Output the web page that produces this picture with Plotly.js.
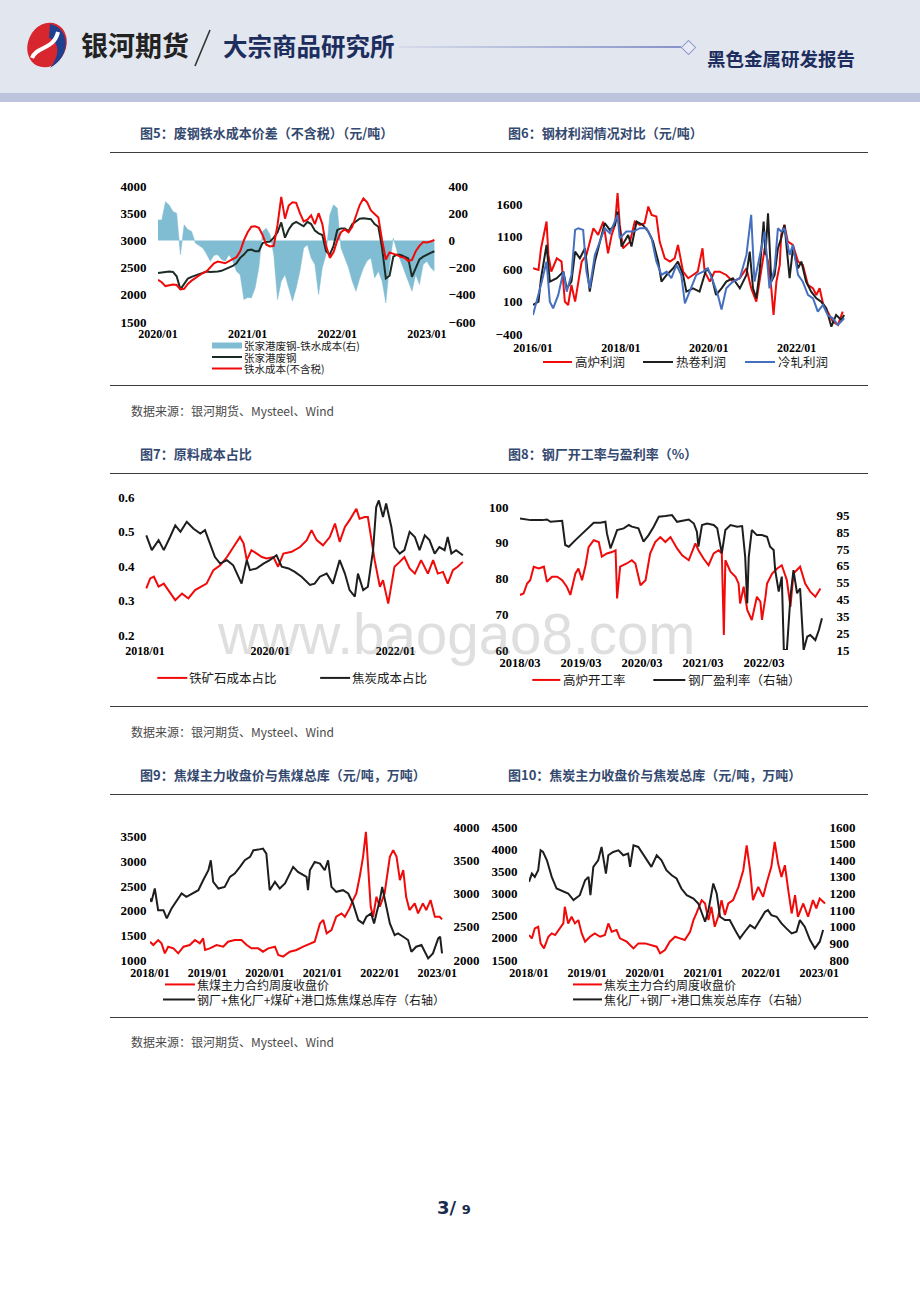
<!DOCTYPE html>
<html><head><meta charset="utf-8">
<script src="https://cdn.plot.ly/plotly-3.0.1.min.js"></script>
<style>
body{margin:0;width:920px;height:1302px;position:relative;background:#fff;overflow:hidden;font-family:"Noto Sans CJK SC",sans-serif;}
.abs{position:absolute;white-space:nowrap;}
.title{position:absolute;font-size:13px;color:#34496f;white-space:nowrap;line-height:16px;font-weight:700;}
.rule{position:absolute;left:110px;width:758px;height:0;border-top:1.5px solid #3c3c3c;}
.src{position:absolute;left:131px;font-size:12px;color:#4a4a4a;white-space:nowrap;line-height:14px;}
.chart{position:absolute;}
</style></head><body>

<!-- header -->
<div class="abs" style="left:0;top:0;width:920px;height:93px;background:#e2e6ef;"></div>
<div class="abs" style="left:0;top:93px;width:920px;height:9px;background:#bcc3dd;"></div>
<svg class="abs" style="left:20px;top:18px" width="56" height="54">
  <ellipse cx="27" cy="27" rx="19" ry="23" fill="#d8262e" transform="rotate(25 27 27)"/>
  <path d="M30 6 C50 10 52 38 30 50 C40 38 40 24 29 20 Z" fill="#1f3f8f"/>
  <path d="M12 40 C16 28 34 32 38 14" stroke="#ffffff" stroke-width="4" fill="none"/>
</svg>
<div class="abs" style="left:81px;top:29px;font-size:27px;line-height:32px;font-weight:700;color:#222;">银河期货</div>
<svg class="abs" style="left:190px;top:28px" width="24" height="40"><line x1="20" y1="2" x2="5" y2="38" stroke="#333" stroke-width="1.6"/></svg>
<div class="abs" style="left:223px;top:32px;font-size:24.5px;line-height:28px;font-weight:700;color:#1c2d5e;">大宗商品研究所</div>
<div class="abs" style="left:399px;top:46px;width:282px;height:1.5px;background:linear-gradient(to right,rgba(190,198,225,0.3),#8793c8);"></div>
<div class="abs" style="left:683px;top:42px;width:9px;height:9px;border:1px solid #8d9ace;background:#e8ebf4;transform:rotate(45deg);"></div>
<div class="abs" style="left:707px;top:46px;font-size:18.5px;line-height:24px;font-weight:700;color:#1c2d5e;">黑色金属研发报告</div>

<!-- section titles and rules -->
<div class="title" style="left:140px;top:125px;">图5：废钢铁水成本价差（不含税）（元/吨）</div>
<div class="title" style="left:508px;top:125px;">图6：钢材利润情况对比（元/吨）</div>
<div class="rule" style="top:152px;"></div>
<div class="rule" style="top:385px;"></div>
<div class="src" style="top:404px;">数据来源：银河期货、Mysteel、Wind</div>

<div class="title" style="left:140px;top:446px;">图7：原料成本占比</div>
<div class="title" style="left:508px;top:446px;">图8：钢厂开工率与盈利率（%）</div>
<div class="rule" style="top:473px;"></div>
<div class="rule" style="top:706px;"></div>
<div class="src" style="top:725px;">数据来源：银河期货、Mysteel、Wind</div>

<div class="title" style="left:140px;top:767px;">图9：焦煤主力收盘价与焦煤总库（元/吨，万吨）</div>
<div class="title" style="left:508px;top:767px;">图10：焦炭主力收盘价与焦炭总库（元/吨，万吨）</div>
<div class="rule" style="top:794px;"></div>
<div class="rule" style="top:1017px;"></div>
<div class="src" style="top:1035px;">数据来源：银河期货、Mysteel、Wind</div>

<div class="chart" id="c5"></div>
<div class="chart" id="c6"></div>
<div class="chart" id="c7"></div>
<div class="chart" id="c8"></div>
<div class="chart" id="c9"></div>
<div class="chart" id="c10"></div>

<div class="abs" style="left:218px;top:607px;font-family:'Liberation Sans',Arial,sans-serif;font-size:56.5px;line-height:56.5px;color:rgba(120,120,120,0.24);pointer-events:none;">www.baogao8.com</div>

<div class="abs" style="left:437px;top:1197px;font-family:'DejaVu Sans',sans-serif;font-weight:700;color:#1a2b4c;"><span style="font-size:18px;">3/</span> <span style="font-size:13px;">9</span></div>

<script>
// ---------------- DATA ----------------
// Chart 5: 2020/01 onward, half-month steps (x = months since 2020/01)
const c5XTicks = [0, 12, 24, 36];
const c5XText = ['2020/01', '2021/01', '2022/01', '2023/01'];
const c5LeftTicks = [1500, 2000, 2500, 3000, 3500, 4000];
const c5RightTicks = [-600, -400, -200, 0, 200, 400];
const c5Names = ['张家港废钢-铁水成本(右)', '张家港废钢', '铁水成本(不含税)'];
const c5Spread = [150,150,285,260,212,200,-105,115,80,66,
  -20,-40,-56,-100,-154,-110,-105,-140,-154,-105,
  -150,-227,-252,-435,-420,-423,-350,-200,66,90,
  42,-105,-435,-300,-252,-350,-447,-350,-227,-56,
  -32,-130,-178,-398,-200,-105,188,262,237,-56,
  -130,-200,-300,-374,-280,-203,-150,-130,-276,-227,
  -300,-460,-178,17,-81,-150,-227,-300,-374,-252,
  -325,-178,-154,-200,-227];
const c5Scrap = [2399,2410,2420,2430,2420,2340,2100,2200,2300,2330,
  2360,2380,2400,2430,2420,2420,2430,2440,2470,2490,
  2530,2580,2680,2740,2820,2830,2800,2800,2950,2970,
  2980,3050,3150,3330,3050,3200,3300,3340,3300,3260,
  3340,3300,3180,3130,3100,2800,2740,2900,3190,3220,
  3220,3170,3300,3350,3400,3405,3400,3390,3300,3250,
  2860,2300,2350,2700,2740,2730,2700,2670,2330,2480,
  2650,2700,2740,2770,2800];
const c5HotMetal = [2276,2230,2160,2170,2190,2180,2100,2110,2200,2260,
  2310,2350,2400,2430,2500,2580,2610,2600,2580,2620,
  2660,2690,2800,3000,3150,3250,3260,3230,3100,2920,
  2890,2900,3285,3800,3400,3640,3700,3690,3500,3350,
  3380,3460,3300,3500,3300,2900,2680,2780,3000,3150,
  3200,3150,3250,3450,3650,3770,3700,3550,3480,3420,
  3000,2650,2780,2760,2730,2700,2680,2620,2640,2800,
  2900,2970,2960,2980,3010];

// Chart 6: months since 2016/01
const c6XTicks = [0, 24, 48, 72];
const c6XText = ['2016/01', '2018/01', '2020/01', '2022/01'];
const c6YTicks = [-400, 100, 600, 1100, 1600];
const c6Names = ['高炉利润', '热卷利润', '冷轧利润'];
const c6BfX = [0,1.5,2.2,2.8,3.7,4.2,5,6.5,7.8,8.7,9.6,10.5,11.5,12.4,13.3,14.6,16.5,17.8,19.2,20.5,21.5,22.4,23.1,23.7,24.6,26.5,27.8,29.2,30.5,31.5,32.4,33.7,34.6,36,37.4,38.7,39.6,41,42.4,43.7,45,46.3,46.9,48.3,49.6,51,52.8,54.6,56.5,58.3,59.6,61,62.4,63.3,64.2,65.1,65.7,66.5,67.4,67.8,68.7,69.6,71,72.4,73.7,75.1,76.5,77.4,78.3,79.2,80.5,81.9,83.3,84.6];
const c6BfY = [613,587,921,1076,1333,819,561,767,716,99,47,356,99,407,716,819,1230,1127,1333,844,1127,1281,1770,1281,921,1024,1333,1281,1307,1564,1436,1410,1024,767,716,767,973,561,459,510,561,921,561,407,561,561,510,407,459,613,304,99,561,921,716,304,-107,407,664,1127,1281,1024,973,716,664,356,304,202,304,73,-55,-210,-261,-55];
const c6HrX = [0,1.5,2.2,3.7,4.6,6.5,8.3,9.2,10.5,11.5,12.8,14.2,15.5,16.9,18.3,19.6,21,22.4,23.1,24.2,26,26.9,28.3,30,31.5,32.8,34.2,35.1,36.5,38.3,39.6,41,41.9,43.7,45.5,47.4,48.7,50,51.5,52.8,54.6,56.5,58.3,59.2,60.1,61,61.9,63,63.5,64.2,65.1,66,66.9,67.8,68.7,70.1,71,72.4,73.3,74.6,76,77.4,78.7,80.1,81.5,82.8,84.2,85];
const c6HrY = [47,99,459,973,407,459,561,304,407,870,767,921,253,716,1024,1307,1204,1281,1487,947,1127,947,1333,1281,1179,1024,716,407,510,613,716,510,253,304,253,613,510,202,304,407,459,304,510,870,304,150,561,1333,819,1461,407,510,921,1076,1281,459,921,613,716,407,253,150,99,-4,-287,-107,-184,-107];
const c6CrX = [0,1,2.4,3.7,4.6,5.5,6.9,8.3,9.2,10.5,11.5,12.4,13.7,14.6,15.5,16.9,18.3,19.6,21,22.4,23.1,23.7,25.5,27.4,29.2,31,32.4,33.7,35.1,36.5,37.8,39.2,40.5,41.5,42.8,44.6,46.5,47.8,49.2,50.5,51.5,52.8,54.6,56.5,58.3,59.6,60.5,61.9,63.3,64.6,66,66.9,67.8,68.7,70.1,71,72.4,73.7,75.1,76.5,77.8,79.2,80.5,81.9,83.3,85];
const c6CrY = [-107,99,407,716,99,-4,202,561,253,510,1204,1230,1204,561,304,819,1024,1230,1153,1333,1436,1076,1179,1179,1230,1230,1076,716,510,561,459,664,510,73,253,510,561,613,407,202,-22,304,407,459,819,1436,407,819,1179,304,613,1230,1179,1230,819,973,510,407,202,150,-55,47,-107,-158,-261,-158];

// Chart 7: months since 2018/01
const c7XTicks = [0, 24, 48];
const c7XText = ['2018/01', '2020/01', '2022/01'];
const c7YTicks = [0.2, 0.3, 0.4, 0.5, 0.6];
const c7Names = ['铁矿石成本占比', '焦炭成本占比'];
const c7OreX = [0.25,1,1.7,2.6,3.6,4.5,5.8,7.1,8.3,9.6,10.9,11.8,13.1,14.4,15.7,16.9,18.2,18.9,19.5,20.4,21.4,22.4,23.3,24.6,25.5,26.5,28.1,29.7,31,31.9,32.9,34.1,35.4,36.4,37.3,38.3,39.2,40.5,41.1,42.1,42.7,43.4,44,45,45.6,46.6,47.2,47.8,48.8,49.7,50.7,51.7,52.9,54.2,55.2,56.1,57.1,58,59,59.9,60.9];
const c7OreY = [0.335,0.364,0.369,0.340,0.349,0.330,0.301,0.320,0.306,0.330,0.340,0.349,0.388,0.402,0.426,0.455,0.484,0.465,0.417,0.446,0.436,0.426,0.422,0.426,0.398,0.436,0.441,0.455,0.475,0.504,0.475,0.460,0.484,0.523,0.470,0.513,0.533,0.566,0.537,0.542,0.542,0.475,0.417,0.340,0.359,0.291,0.349,0.398,0.412,0.426,0.393,0.378,0.417,0.378,0.417,0.378,0.383,0.349,0.388,0.398,0.412];
const c7CokeX = [0.25,1.3,2.6,3.6,4.8,5.8,6.8,8,9.3,10.6,11.5,12.5,13.4,14.4,15.7,16.9,17.9,18.5,19.5,20.1,21.4,22.7,23.9,25.2,26.2,27.5,28.7,30,31.6,32.5,33.5,34.8,36,37.3,38.3,39.2,40.2,40.8,41.8,42.7,43.7,44.3,44.8,45.6,46.2,47.2,47.8,48.8,49.7,50.7,51.7,52.6,53.6,54.5,55.5,56.4,57.4,58,58.7,59.6,60.9];
const c7CokeY = [0.489,0.446,0.475,0.446,0.484,0.518,0.499,0.528,0.508,0.494,0.504,0.465,0.426,0.407,0.417,0.402,0.369,0.349,0.417,0.388,0.393,0.407,0.417,0.431,0.398,0.393,0.383,0.369,0.345,0.349,0.369,0.378,0.349,0.417,0.378,0.330,0.311,0.378,0.330,0.340,0.446,0.571,0.590,0.542,0.581,0.513,0.455,0.436,0.446,0.499,0.484,0.446,0.489,0.475,0.436,0.455,0.446,0.484,0.436,0.446,0.431];

// Chart 8: months since 2018/03
const c8XTicks = [0, 12, 24, 36, 48];
const c8XText = ['2018/03', '2019/03', '2020/03', '2021/03', '2022/03'];
const c8LeftTicks = [60, 70, 80, 90, 100];
const c8RightTicks = [15, 25, 35, 45, 55, 65, 75, 85, 95];
const c8Names = ['高炉开工率', '钢厂盈利率（右轴）'];
const c8RateX = [0,0.7,1.4,2,2.7,3.7,4.7,5.3,6.3,7.3,8.3,9.2,9.9,10.9,11.5,12.2,12.9,13.5,14.5,15.5,16.1,17.1,18.1,18.8,19.1,19.7,21,22,22.7,23.7,24.7,25.6,26.6,27.6,28.6,29.6,30.9,31.9,33.2,34.5,35.1,36.1,37.1,38.1,39.1,39.7,40.1,40.4,41.4,42.4,43,43.3,44,44.7,45.6,46.6,47.3,47.6,48.3,48.6,49.6,50.6,51.5,52.5,53.2,53.8,55.1,56.1,57.1,58.1,59.1];
const c8RateY = [75.4,75.8,78.6,79.5,83.3,82.8,83.3,79.1,80.5,80.5,79.5,77.7,75.4,81.4,82.8,79.5,83.7,88.8,90.7,90.2,86.1,87.0,87.4,87.9,74.4,83.3,84.2,85.1,84.2,78.1,79.5,87.0,90.2,91.6,90.2,91.6,88.4,86.5,85.1,89.8,87.9,85.6,83.7,87.0,87.9,87.0,64.2,85.1,81.9,80.5,78.6,73.0,77.7,71.2,68.4,74.9,73.5,68.4,74.9,78.6,81.4,82.8,83.7,79.5,72.1,81.4,83.3,78.6,76.3,74.9,77.2];
const c8ProfitX = [0,2.1,4.4,5.3,6,8.3,8.9,9.6,10.9,11.9,13.2,14.5,15.8,16.8,17.1,17.8,18.4,19.1,20.4,21.4,22,23.3,24.3,25.3,26.3,27.3,28.6,29.9,30.9,32.2,33.2,34.2,34.8,35.1,35.8,36.8,38.1,38.8,39.7,40.4,41.4,42.7,43.7,44.3,44.7,45,45.6,46.6,47.6,48.6,49.2,49.9,50.2,50.9,51.5,51.9,52.5,53.2,53.8,54.5,55.1,55.8,56.5,57.1,58.1,58.8,59.4];
const c8ProfitY = [93.2,92.2,92.2,92.6,91.2,91.8,77.4,76.4,80.3,83.3,87.3,90.6,90.6,91.2,84.3,75.4,80.3,86.3,87.3,89.3,88.3,87.3,79.4,83.3,88.3,94.2,94.6,95.2,91.2,92.2,92.6,90.2,85.3,76.4,89.3,90.2,89.3,87.3,72.4,86.3,89.3,88.3,88.7,70.4,42.7,70.4,86.3,83.3,83.3,82.3,76.4,74.4,62.5,49.7,58.6,15,15,46.7,62.5,48.7,51.6,15,22.9,23.9,20.9,26.9,33.8];

// Chart 9: months since 2018/01
const c9XTicks = [0, 12, 24, 36, 48, 60];
const c9XText = ['2018/01', '2019/01', '2020/01', '2021/01', '2022/01', '2023/01'];
const c9LeftTicks = [1000, 1500, 2000, 2500, 3000, 3500];
const c9RightTicks = [2000, 2500, 3000, 3500, 4000];
const c9Names = ['焦煤主力合约周度收盘价', '钢厂+焦化厂+煤矿+港口炼焦煤总库存（右轴）'];
const c9PriceX = [0,0.7,1.7,2.4,3.1,3.8,4.9,5.9,7,8.3,9.4,10.4,11.1,11.5,12.5,13.9,15.3,16.3,17.7,19.1,20.2,21.2,22.6,23.6,24.7,26.1,26.8,27.8,29.2,30.6,32,33.4,34.4,35.5,36.2,36.9,37.9,38.9,40,40.7,41.7,42.4,43.1,43.8,44.5,45.1,45.5,46.1,46.6,47.3,48,49,50.1,50.8,51.5,52.2,52.9,53.5,54.2,55.3,56,57,57.7,58.6,59.5,60.5,61];
const c9PriceY = [1371,1304,1405,1338,1135,1270,1236,1135,1270,1304,1405,1338,1439,1203,1236,1304,1270,1371,1405,1405,1304,1236,1236,1169,1236,1270,1101,1068,1169,1203,1270,1338,1371,1743,1811,1540,1608,1878,1946,1878,2047,2216,2351,2689,3095,3601,3027,2081,1878,2284,2081,2351,3095,3230,3095,2622,2824,2284,2013,2149,1946,2149,2013,2216,1878,1878,1824];
const c9StockX = [0,0.3,1,1.7,2.8,3.5,4.5,5.6,6.6,7.6,9,10.1,11.1,12.2,12.7,13.2,14.3,15.6,16.7,17.7,18.8,19.8,20.9,21.6,22.6,23.6,24.3,25,26.1,27.1,28.2,29.2,29.9,30.9,32,32.7,33,33.4,34.4,35.5,36.5,37.2,37.9,38.9,40.3,41.4,42.4,43.5,44.5,45.2,46.2,46.8,47.3,48,48.5,49.4,50.1,51.1,51.8,52.9,53.9,54.6,55.6,56.7,57.4,58.1,59.1,60.2,60.6,61];
const c9StockY = [2925,2875,3075,2750,2750,2625,2775,2900,3000,2950,3000,3050,3200,3350,3500,3175,3075,3100,3250,3300,3400,3500,3550,3650,3660,3675,3600,3050,3175,3075,3150,3300,3400,3325,3275,3250,3050,3350,3475,3450,3350,3500,3100,3025,3050,3000,2850,2600,2550,2650,2700,2550,2700,2900,3100,2800,2550,2375,2400,2350,2300,2125,2200,2225,2125,2025,2100,2325,2350,2100];

// Chart 10: months since 2018/01
const c10XTicks = [0, 12, 24, 36, 48, 60];
const c10XText = ['2018/01', '2019/01', '2020/01', '2021/01', '2022/01', '2023/01'];
const c10LeftTicks = [1500, 2000, 2500, 3000, 3500, 4000, 4500];
const c10RightTicks = [800, 900, 1000, 1100, 1200, 1300, 1400, 1500, 1600];
const c10Names = ['焦炭主力合约周度收盘价', '焦化厂+钢厂+港口焦炭总库存（右轴）'];
const c10PriceX = [0,0.6,1.2,1.9,2.4,3.1,4,4.7,5.4,6.4,7.1,7.4,8.1,8.8,9.5,10.2,10.9,11.6,12.6,13.6,14.7,15.7,16.4,17.1,18.1,18.8,20.2,21.6,22.6,24,25.3,26.4,27.1,28.1,29.1,30.2,31.2,32.2,33.3,34,34.6,35.7,36.4,37.1,37.7,38.4,39.1,39.8,40.5,41.2,42.2,43.3,44.3,45,45.7,46.3,47.4,48.4,49.1,50.1,50.8,51.5,52.2,52.9,53.6,54.3,55,55.6,56.7,57.7,58.7,59.4,60.1,61.2];
const c10PriceY = [2063,1988,2213,2250,1875,1763,2025,2100,2063,2213,2325,2700,2325,2475,2325,2400,2100,1913,2025,2100,2025,2063,2325,2138,2175,1988,1913,1763,1875,1875,1838,1800,1650,1725,1913,2025,1988,1950,2138,2400,2550,2850,2775,2400,2700,2250,2475,2850,2513,2775,2850,3150,3525,4088,3525,2850,3150,2925,3225,3600,4163,3675,3375,3638,3075,2550,2963,2475,2775,2475,2850,2663,2888,2775];
const c10StockX = [0,0.6,1.2,1.9,2.4,2.9,3.7,4.7,5.7,7.1,8.1,9.2,10.5,11.6,12.3,12.7,13.3,14.3,15,15.9,16.4,17.4,18.5,19.5,20.5,20.9,21.6,22.6,24,25.3,26.4,27.4,28.4,29.5,30.5,31.5,32.6,34,35,35.7,36.4,37.1,38.1,38.8,39.5,40.5,41.5,42.6,43.6,44.6,45.7,46.7,47.7,48.8,49.4,50.1,51.2,52.2,53.2,54.3,55.3,56,57,58.1,59.1,60.1,60.8];
const c10StockY = [1270,1320,1300,1340,1460,1450,1400,1300,1230,1210,1200,1160,1190,1280,1300,1190,1360,1400,1480,1320,1430,1450,1460,1430,1440,1360,1490,1480,1420,1360,1430,1400,1340,1310,1290,1230,1190,1170,1140,1080,1030,1100,1260,1200,1060,1040,1040,980,930,970,1010,990,1040,1090,1100,1070,1060,1020,990,960,970,1040,1000,920,870,910,980];

// ---------------- STYLE ----------------
const RED = '#f00a0a', BLACK = '#1e1e1e', BLUE = '#4570c0', AREA = '#80bdd3', DKGREEN = '#1c2b24';
function ax(extra, size) {
  return Object.assign({
    showgrid: false, zeroline: false, showline: false, ticks: 'outside',
    tickcolor: 'rgba(0,0,0,0)', fixedrange: true, automargin: false,
    tickfont: {family: 'Liberation Serif, serif', size: size || 13, color: '#000', weight: 700}
  }, extra);
}
function line(x, y, color, name, yaxis) {
  return {type: 'scatter', mode: 'lines', x: x, y: y, name: name, yaxis: yaxis || 'y',
    line: {color: color, width: 2}, hoverinfo: 'skip'};
}
function drawChart(id, pos, box, traces, layoutExtra, legend) {
  const el = document.getElementById(id);
  el.style.left = pos[0] + 'px'; el.style.top = pos[1] + 'px';
  el.style.width = pos[2] + 'px'; el.style.height = pos[3] + 'px';
  const margin = {l: box[0] - pos[0], r: pos[0] + pos[2] - box[1], t: box[2] - pos[1], b: pos[1] + pos[3] - box[3], pad: 0};
  const W = box[1] - box[0], H = box[3] - box[2];
  const px = v => (v - box[0]) / W, py = v => (box[3] - v) / H;
  const shapes = [], annotations = [];
  legend.forEach(it => {
    if (it.kind === 'rect') {
      shapes.push({type: 'rect', xref: 'paper', yref: 'paper', x0: px(it.x0), x1: px(it.x1),
        y0: py(it.y + 3), y1: py(it.y - 3), fillcolor: it.color, line: {width: 0}});
    } else {
      shapes.push({type: 'line', xref: 'paper', yref: 'paper', x0: px(it.x0), x1: px(it.x1),
        y0: py(it.y), y1: py(it.y), line: {color: it.color, width: 2}});
    }
    annotations.push({xref: 'paper', yref: 'paper', x: px(it.tx), y: py(it.y), xanchor: 'left', yanchor: 'middle',
      text: it.name, showarrow: false, borderpad: 0,
      font: {family: 'Noto Sans CJK SC, sans-serif', size: it.size || 12, color: '#1a1a1a'}});
  });
  const layout = Object.assign({width: pos[2], height: pos[3], margin: margin,
    paper_bgcolor: 'rgba(0,0,0,0)', plot_bgcolor: 'rgba(0,0,0,0)', showlegend: false,
    shapes: shapes, annotations: annotations}, layoutExtra);
  Plotly.newPlot(el, traces, layout, {staticPlot: true, displayModeBar: false});
}

// ---------------- CHART 5 ----------------
const c5X = c5HotMetal.map((_, i) => i * 0.5);
drawChart('c5', [110, 160, 370, 225], [158, 437, 186, 322], [
  {type: 'scatter', mode: 'lines', x: c5X, y: c5Spread, name: c5Names[0], fill: 'tozeroy',
    fillcolor: AREA, line: {color: AREA, width: 0.5}, yaxis: 'y', hoverinfo: 'skip'},
  line(c5X, c5Scrap, DKGREEN, c5Names[1], 'y2'),
  line(c5X, c5HotMetal, RED, c5Names[2], 'y2')
], {
  xaxis: ax({range: [0, 37.35], tickvals: c5XTicks, ticktext: c5XText, ticklen: 1}, 12),
  yaxis: ax({range: [-600, 400], tickvals: c5RightTicks, side: 'right', ticklen: 8}),
  yaxis2: ax({range: [1500, 4000], tickvals: c5LeftTicks, side: 'left', overlaying: 'y', ticklen: 8})
}, [
  {kind: 'rect', x0: 212, x1: 242, y: 345.5, tx: 243, color: AREA, name: c5Names[0], size: 10.5},
  {kind: 'line', x0: 212, x1: 242, y: 357, tx: 243, color: DKGREEN, name: c5Names[1], size: 10.5},
  {kind: 'line', x0: 212, x1: 242, y: 368.5, tx: 243, color: RED, name: c5Names[2], size: 10.5}
]);

// ---------------- CHART 6 ----------------
drawChart('c6', [480, 160, 390, 225], [533, 846, 188, 334], [
  line(c6BfX, c6BfY, RED, c6Names[0]),
  line(c6HrX, c6HrY, BLACK, c6Names[1]),
  line(c6CrX, c6CrY, BLUE, c6Names[2])
], {
  xaxis: ax({range: [0, 85.5], tickvals: c6XTicks, ticktext: c6XText, ticklen: 3}, 12),
  yaxis: ax({range: [-400, 1850], tickvals: c6YTicks, ticklen: 7})
}, [
  {kind: 'line', x0: 543, x1: 572, y: 362, tx: 574, color: RED, name: c6Names[0], size: 12.5},
  {kind: 'line', x0: 643, x1: 673, y: 362, tx: 675, color: BLACK, name: c6Names[1], size: 12.5},
  {kind: 'line', x0: 745, x1: 775, y: 362, tx: 777, color: BLUE, name: c6Names[2], size: 12.5}
]);

// ---------------- CHART 7 ----------------
drawChart('c7', [110, 475, 370, 230], [144.7, 466, 496.7, 635], [
  line(c7OreX, c7OreY, RED, c7Names[0]),
  line(c7CokeX, c7CokeY, BLACK, c7Names[1])
], {
  xaxis: ax({range: [0, 61.5], tickvals: c7XTicks, ticktext: c7XText, ticklen: 5}, 12),
  yaxis: ax({range: [0.2, 0.6], tickvals: c7YTicks, ticktext: c7YTicks.map(String), ticklen: 7})
}, [
  {kind: 'line', x0: 157, x1: 187, y: 678, tx: 188, color: RED, name: c7Names[0], size: 12.5},
  {kind: 'line', x0: 320, x1: 350, y: 678, tx: 351, color: BLACK, name: c7Names[1], size: 12.5}
]);

// ---------------- CHART 8 ----------------
drawChart('c8', [480, 475, 390, 230], [519.7, 824.7, 506.7, 650], [
  line(c8RateX, c8RateY, RED, c8Names[0], 'y'),
  line(c8ProfitX, c8ProfitY, BLACK, c8Names[1], 'y2')
], {
  xaxis: ax({range: [0, 60], tickvals: c8XTicks, ticktext: c8XText, ticklen: 1}, 12.5),
  yaxis: ax({range: [60, 100], tickvals: c8LeftTicks, ticklen: 8}),
  yaxis2: ax({range: [15, 100], tickvals: c8RightTicks, side: 'right', overlaying: 'y', ticklen: 8})
}, [
  {kind: 'line', x0: 532, x1: 560, y: 680, tx: 562, color: RED, name: c8Names[0], size: 12.5},
  {kind: 'line', x0: 653, x1: 685, y: 680, tx: 687, color: BLACK, name: c8Names[1], size: 12.5}
]);

// ---------------- CHART 9 ----------------
drawChart('c9', [110, 800, 370, 215], [150, 443.4, 826.7, 960], [
  line(c9StockX, c9StockY, BLACK, c9Names[1], 'y2'),
  line(c9PriceX, c9PriceY, RED, c9Names[0], 'y')
], {
  xaxis: ax({range: [0, 61.2], tickvals: c9XTicks, ticktext: c9XText, ticklen: 2}, 12),
  yaxis: ax({range: [1000, 3700], tickvals: c9LeftTicks, ticklen: 0}),
  yaxis2: ax({range: [2000, 4000], tickvals: c9RightTicks, side: 'right', overlaying: 'y', ticklen: 7})
}, [
  {kind: 'line', x0: 165, x1: 195, y: 984.5, tx: 196, color: RED, name: c9Names[0], size: 12},
  {kind: 'line', x0: 163, x1: 195, y: 999.5, tx: 196, color: BLACK, name: c9Names[1], size: 12}
]);

// ---------------- CHART 10 ----------------
drawChart('c10', [480, 800, 390, 215], [529, 826.1, 826.7, 960], [
  line(c10StockX, c10StockY, BLACK, c10Names[1], 'y2'),
  line(c10PriceX, c10PriceY, RED, c10Names[0], 'y')
], {
  xaxis: ax({range: [0, 61.4], tickvals: c10XTicks, ticktext: c10XText, ticklen: 2}, 12),
  yaxis: ax({range: [1500, 4500], tickvals: c10LeftTicks, ticklen: 8}),
  yaxis2: ax({range: [800, 1600], tickvals: c10RightTicks, side: 'right', overlaying: 'y', ticklen: 0})
}, [
  {kind: 'line', x0: 573, x1: 602, y: 984.5, tx: 603, color: RED, name: c10Names[0], size: 12},
  {kind: 'line', x0: 573, x1: 602, y: 999.5, tx: 603, color: BLACK, name: c10Names[1], size: 12}
]);
</script>
</body></html>
